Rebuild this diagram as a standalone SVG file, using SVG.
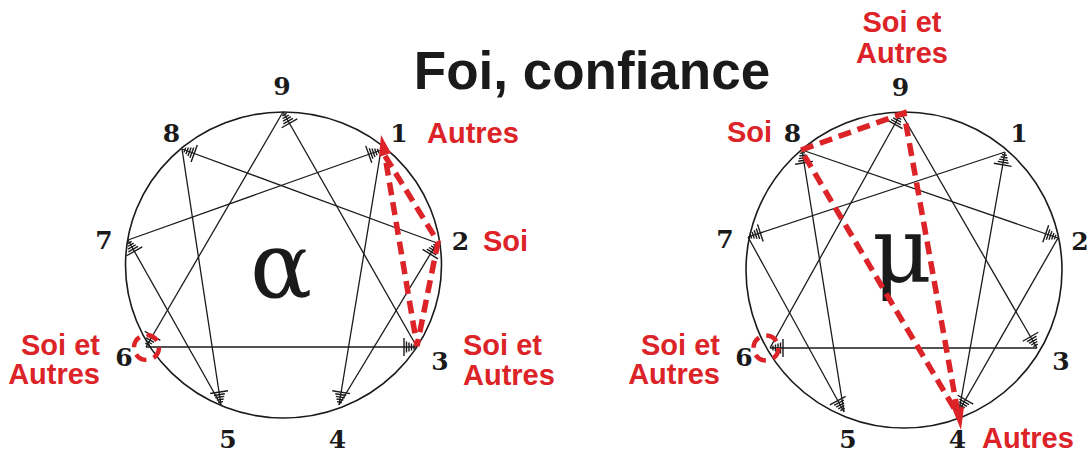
<svg xmlns="http://www.w3.org/2000/svg" width="1090" height="457" viewBox="0 0 1090 457">
<style>
.c{fill:none;stroke:#1a1a1a;stroke-width:1.6}
.ln{stroke:#1a1a1a;stroke-width:1.3;fill:none}
.n{font-family:"DejaVu Serif",serif;font-weight:bold;font-size:25px;fill:#1a1a1a;text-anchor:middle}
.r{font-family:"Liberation Sans",Arial,sans-serif;font-weight:bold;font-size:29px;fill:#dc2328}
.e{text-anchor:end}
.m{text-anchor:middle}
.rd{fill:none;stroke:#dc2328;stroke-width:5.5;stroke-dasharray:13 7;stroke-linejoin:miter}
.rc{fill:none;stroke:#dc2328;stroke-width:4.5;stroke-dasharray:12 7.6}
.ah{fill:#dc2328}
.g{font-family:"DejaVu Serif",serif;font-size:92px;fill:#1a1a1a;text-anchor:middle}
.t{font-family:"Liberation Sans",Arial,sans-serif;font-weight:bold;font-size:53px;fill:#1a1a1a;text-anchor:middle}
</style>
<defs>
<g id="h"><path d="M3,-2.5V2.5M5.5,-3.5V3.5M8,-4.5V4.5M10.5,-5.5V5.5M13,-9V9" stroke="#1a1a1a" stroke-width="1.4" fill="none"/></g>
</defs>
<rect width="1090" height="457" fill="#ffffff"/>
<text class="t" x="592" y="89">Foi, confiance</text>

<!-- LEFT ENNEAGRAM -->
<g id="left-circle"><ellipse class="c" cx="283.5" cy="265" rx="158" ry="153"/></g>
<g id="left-connectors">
<line class="ln" x1="283" y1="112" x2="417" y2="347"/>
<line class="ln" x1="417" y1="347" x2="146" y2="347"/>
<line class="ln" x1="146" y1="347" x2="283" y2="112"/>
<line class="ln" x1="381" y1="150" x2="339" y2="405"/>
<line class="ln" x1="339" y1="405" x2="437" y2="243"/>
<line class="ln" x1="437" y1="243" x2="182" y2="149"/>
<line class="ln" x1="182" y1="149" x2="221" y2="405"/>
<line class="ln" x1="221" y1="405" x2="128" y2="240"/>
<line class="ln" x1="128" y1="240" x2="381" y2="150"/>
</g>
<g id="left-n9"><use href="#h" transform="translate(283,112) rotate(60.3)"/><text class="n" x="282" y="95">9</text></g>
<g id="left-n8"><use href="#h" transform="translate(182,149) rotate(20.2)"/><text class="n" x="171.5" y="142">8</text></g>
<g id="left-n1"><use href="#h" transform="translate(381,150) rotate(160.4)"/><text class="n" x="399" y="142">1</text></g>
<g id="left-n7"><use href="#h" transform="translate(128,240) rotate(60.6)"/><text class="n" x="104" y="249">7</text></g>
<g id="left-n2"><use href="#h" transform="translate(437,243) rotate(121.2)"/><text class="n" x="460.5" y="250">2</text></g>
<g id="left-n6"><use href="#h" transform="translate(146,347) rotate(-59.8)"/><text class="n" x="124" y="366">6</text></g>
<g id="left-n3"><use href="#h" transform="translate(417,347) rotate(180)"/><text class="n" x="440" y="370">3</text></g>
<g id="left-n5"><use href="#h" transform="translate(221,405) rotate(-98.7)"/><text class="n" x="228" y="448">5</text></g>
<g id="left-n4"><use href="#h" transform="translate(339,405) rotate(-80.6)"/><text class="n" x="337.5" y="448">4</text></g>
<g id="left-greek"><text class="g" x="281" y="297">α</text></g>
<g id="left-red">
<path class="rd" d="M385,156 L438,242 L417,346 Z"/>
<polygon class="ah" points="381,135 391,153 379,157"/>
<circle class="rc" cx="146.5" cy="347.5" r="12.5"/>
<text class="r" x="427" y="143">Autres</text>
<text class="r" x="483" y="251">Soi</text>
<text class="r" x="463" y="355">Soi et</text>
<text class="r" x="463" y="385">Autres</text>
<text class="r e" x="100" y="355">Soi et</text>
<text class="r e" x="100" y="384">Autres</text>
</g>

<!-- RIGHT ENNEAGRAM -->
<g id="right-circle"><circle class="c" cx="904" cy="270" r="158"/></g>
<g id="right-connectors">
<line class="ln" x1="901" y1="113" x2="1037" y2="348"/>
<line class="ln" x1="1037" y1="348" x2="770" y2="348"/>
<line class="ln" x1="770" y1="348" x2="901" y2="113"/>
<line class="ln" x1="1005" y1="152" x2="959" y2="411"/>
<line class="ln" x1="959" y1="411" x2="1058" y2="238"/>
<line class="ln" x1="1058" y1="238" x2="802" y2="150"/>
<line class="ln" x1="802" y1="150" x2="844" y2="412"/>
<line class="ln" x1="844" y1="412" x2="748" y2="237"/>
<line class="ln" x1="748" y1="237" x2="1005" y2="152"/>
</g>
<g id="right-n9"><use href="#h" transform="translate(901,113) rotate(119.1)"/><text class="n" x="900.5" y="96">9</text></g>
<g id="right-n8"><use href="#h" transform="translate(802,150) rotate(80.9)"/><text class="n" x="792.5" y="142">8</text></g>
<g id="right-n1"><use href="#h" transform="translate(1005,152) rotate(100.1)"/><text class="n" x="1019" y="142">1</text></g>
<g id="right-n7"><use href="#h" transform="translate(748,237) rotate(-18.3)"/><text class="n" x="725" y="248">7</text></g>
<g id="right-n2"><use href="#h" transform="translate(1058,238) rotate(-161)"/><text class="n" x="1080" y="250">2</text></g>
<g id="right-n6"><use href="#h" transform="translate(770,348) rotate(0)"/><text class="n" x="744" y="366">6</text></g>
<g id="right-n3"><use href="#h" transform="translate(1037,348) rotate(-120.1)"/><text class="n" x="1061" y="370">3</text></g>
<g id="right-n5"><use href="#h" transform="translate(844,412) rotate(-118.7)"/><text class="n" x="848" y="448">5</text></g>
<g id="right-n4"><use href="#h" transform="translate(959,411) rotate(-60.2)"/><text class="n" x="957.5" y="448">4</text></g>
<g id="right-greek"><text class="g" x="902" y="282">μ</text></g>
<g id="right-red">
<path class="rd" d="M954,408 L801,150 L904,113 L957,408"/>
<polygon class="ah" points="961,430 952,408 964,407"/>
<circle class="rc" cx="766" cy="348" r="12.5"/>
<text class="r m" x="902" y="32">Soi et</text>
<text class="r m" x="902" y="63">Autres</text>
<text class="r" x="727" y="142">Soi</text>
<text class="r e" x="720" y="355">Soi et</text>
<text class="r e" x="720" y="384">Autres</text>
<text class="r" x="982" y="448">Autres</text>
</g>
</svg>
